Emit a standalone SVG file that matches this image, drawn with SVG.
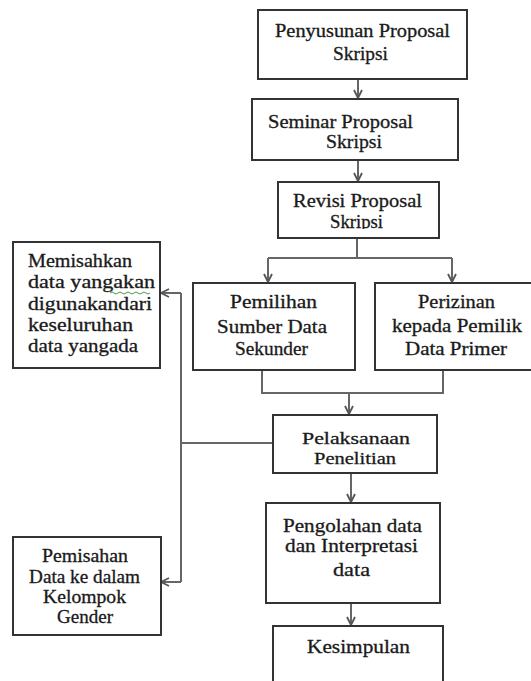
<svg xmlns="http://www.w3.org/2000/svg" width="531" height="681" viewBox="0 0 531 681">
<style>
.box{fill:#fff;stroke:#333;stroke-width:2}
.t{font-family:"Liberation Serif","Times New Roman",serif;font-size:18px;fill:#1a1a1a;stroke:#1a1a1a;stroke-width:0.3}
.s{font-size:17px}
.c{fill:none;stroke:#666;stroke-width:2}
</style>
<defs>
<marker id="ah" viewBox="0 0 10 10" refX="9" refY="5" markerWidth="10" markerHeight="10" markerUnits="userSpaceOnUse" orient="auto">
<path d="M1,1 L9,5 L1,9" fill="none" stroke="#555" stroke-width="1.8"/>
</marker>
<clipPath id="clip3"><rect x="278" y="182" width="161" height="47"/></clipPath>
<clipPath id="clip6"><rect x="273" y="415" width="164" height="51"/></clipPath>
</defs>
<rect width="531" height="681" fill="#fff"/>
<g id="connectors">
<path class="c" d="M358,79 V98" marker-end="url(#ah)"/>
<path class="c" d="M358,160 V181" marker-end="url(#ah)"/>
<path class="c" d="M357,238 V258"/>
<path class="c" d="M268,258 H452"/>
<path class="c" d="M268,258 V282" marker-end="url(#ah)"/>
<path class="c" d="M452,258 V282" marker-end="url(#ah)"/>
<path class="c" d="M262,370 V393 H443 V370"/>
<path class="c" d="M349,393 V414" marker-end="url(#ah)"/>
<path class="c" d="M273,443 H181"/>
<path class="c" d="M181,293 V582"/>
<path class="c" d="M181,293 H161" marker-end="url(#ah)"/>
<path class="c" d="M181,582 H161" marker-end="url(#ah)"/>
<path class="c" d="M351,473 V502" marker-end="url(#ah)"/>
<path class="c" d="M351,603 V625" marker-end="url(#ah)"/>
</g>
<g id="n1">
<rect class="box" x="258" y="10" width="209" height="69"/>
<text class="t" x="275" y="37" textLength="175" lengthAdjust="spacingAndGlyphs">Penyusunan Proposal</text>
<text class="t" x="333" y="60" textLength="55" lengthAdjust="spacingAndGlyphs">Skripsi</text>
</g>
<g id="n2">
<rect class="box" x="252" y="99" width="206" height="61"/>
<text class="t" x="268" y="128" textLength="145" lengthAdjust="spacingAndGlyphs">Seminar Proposal</text>
<text class="t" x="326" y="148" textLength="56" lengthAdjust="spacingAndGlyphs">Skripsi</text>
</g>
<g id="n3">
<rect class="box" x="278" y="182" width="161" height="56"/>
<text class="t" x="293" y="207" textLength="129" lengthAdjust="spacingAndGlyphs">Revisi Proposal</text>
<text class="t" x="330" y="228" textLength="53" lengthAdjust="spacingAndGlyphs" clip-path="url(#clip3)">Skripsi</text>
</g>
<g id="n4">
<rect class="box" x="193" y="283" width="162" height="87"/>
<text class="t" x="230" y="308" textLength="87" lengthAdjust="spacingAndGlyphs">Pemilihan</text>
<text class="t" x="217" y="333" textLength="110" lengthAdjust="spacingAndGlyphs">Sumber Data</text>
<text class="t" x="235" y="355" textLength="73" lengthAdjust="spacingAndGlyphs">Sekunder</text>
</g>
<g id="n5">
<rect class="box" x="375" y="283" width="162" height="87"/>
<text class="t" x="418" y="308" textLength="77" lengthAdjust="spacingAndGlyphs">Perizinan</text>
<text class="t" x="392" y="332" textLength="130" lengthAdjust="spacingAndGlyphs">kepada Pemilik</text>
<text class="t" x="405" y="355" textLength="102" lengthAdjust="spacingAndGlyphs">Data Primer</text>
</g>
<g id="n6">
<rect class="box" x="273" y="415" width="164" height="58"/>
<text class="t s" x="302" y="444" textLength="108" lengthAdjust="spacingAndGlyphs">Pelaksanaan</text>
<text class="t s" x="314" y="464" textLength="82" lengthAdjust="spacingAndGlyphs" clip-path="url(#clip6)">Penelitian</text>
</g>
<g id="n7">
<rect class="box" x="13" y="242" width="147" height="126"/>
<text class="t" x="28" y="267" textLength="104" lengthAdjust="spacingAndGlyphs">Memisahkan</text>
<text class="t" x="28" y="288" textLength="127" lengthAdjust="spacingAndGlyphs">data yangakan</text>
<path d="M110,293 q2,-2 4,0 t4,0 t4,0 t4,0 t4,0 t4,0 t4,0 t4,0 t4,0 t4,0" fill="none" stroke="#4a9a4a" stroke-width="1"/>
<text class="t" x="28" y="310" textLength="124" lengthAdjust="spacingAndGlyphs">digunakandari</text>
<text class="t" x="28" y="331" textLength="105" lengthAdjust="spacingAndGlyphs">keseluruhan</text>
<text class="t" x="28" y="352" textLength="110" lengthAdjust="spacingAndGlyphs">data yangada</text>
</g>
<g id="n8">
<rect class="box" x="13" y="537" width="148" height="98"/>
<text class="t" x="42" y="562" textLength="86" lengthAdjust="spacingAndGlyphs">Pemisahan</text>
<text class="t" x="29" y="583" textLength="111" lengthAdjust="spacingAndGlyphs">Data ke dalam</text>
<text class="t" x="43" y="603" textLength="83" lengthAdjust="spacingAndGlyphs">Kelompok</text>
<text class="t" x="57" y="623" textLength="56" lengthAdjust="spacingAndGlyphs">Gender</text>
</g>
<g id="n9">
<rect class="box" x="266" y="503" width="174" height="100"/>
<text class="t" x="283" y="532" textLength="139" lengthAdjust="spacingAndGlyphs">Pengolahan data</text>
<text class="t" x="285" y="552" textLength="133" lengthAdjust="spacingAndGlyphs">dan Interpretasi</text>
<text class="t" x="333" y="576" textLength="37" lengthAdjust="spacingAndGlyphs">data</text>
</g>
<g id="n10">
<rect class="box" x="273" y="626" width="170" height="70"/>
<text class="t" x="307" y="653" textLength="103" lengthAdjust="spacingAndGlyphs">Kesimpulan</text>
</g>
</svg>
